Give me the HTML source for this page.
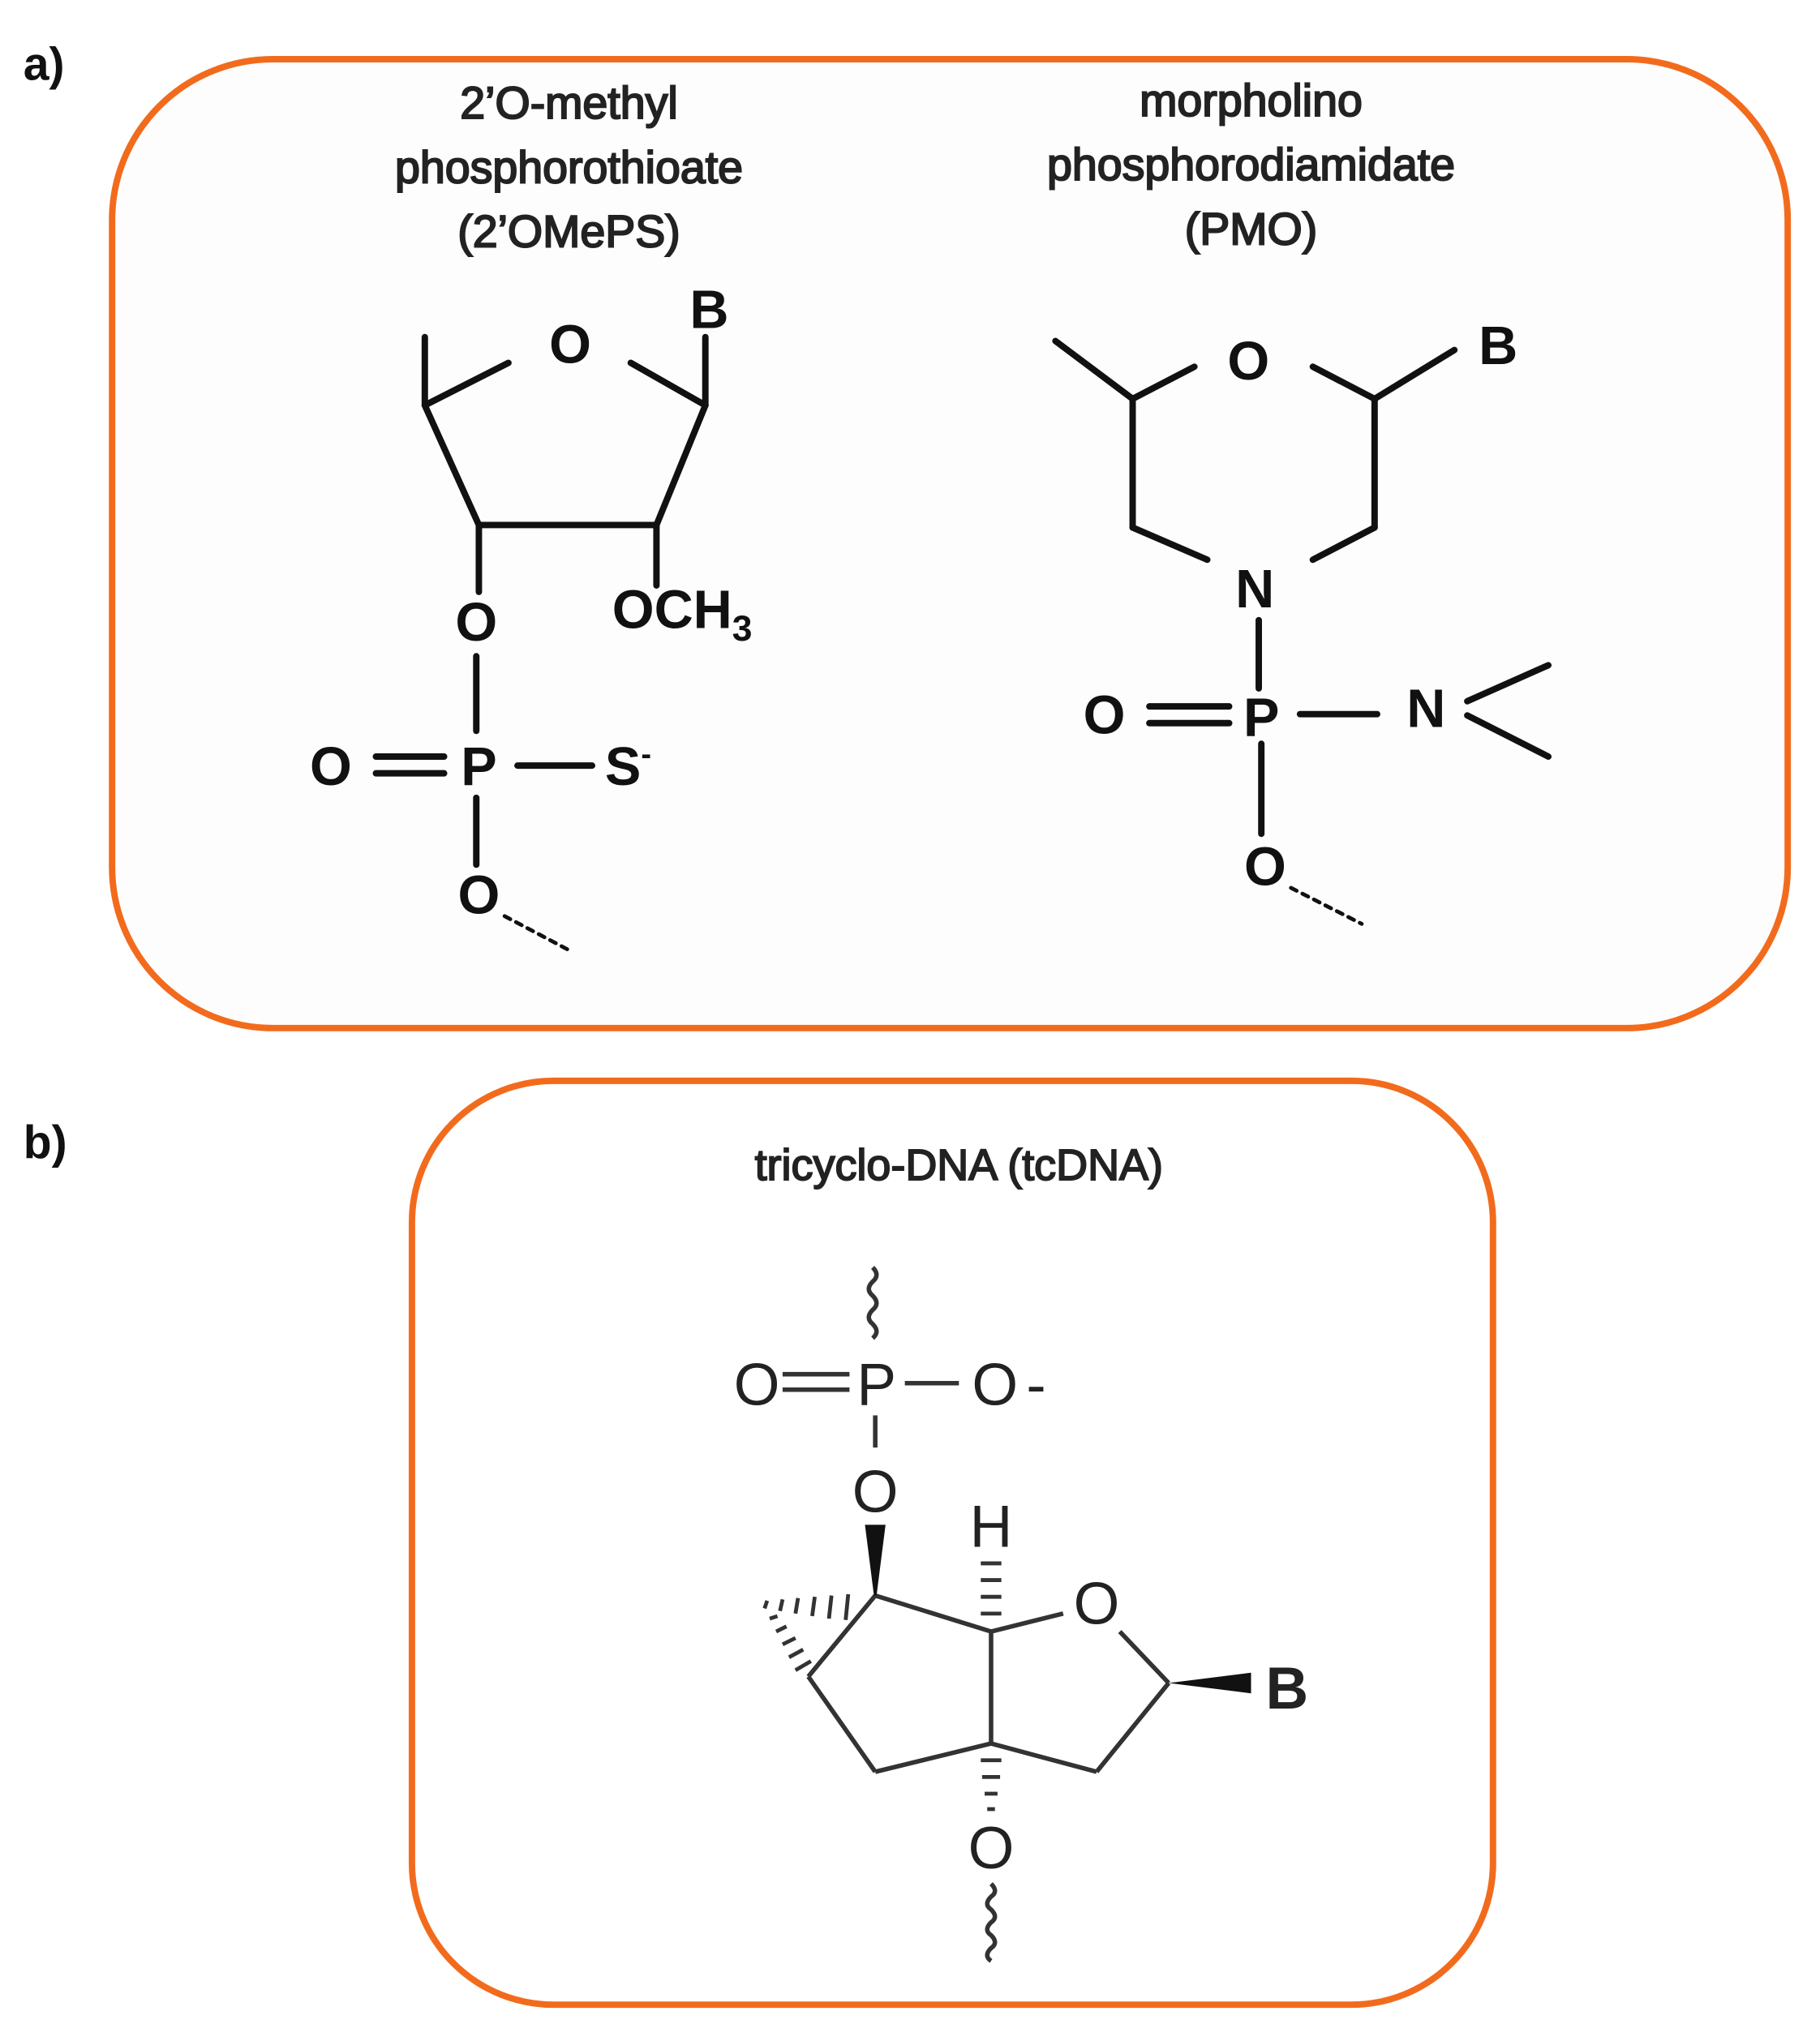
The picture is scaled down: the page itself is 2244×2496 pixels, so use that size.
<!DOCTYPE html>
<html><head><meta charset="utf-8"><style>
html,body{margin:0;padding:0;background:#fff;}
svg{display:block;}
text{font-family:"Liberation Sans",Arial,sans-serif;}
</style></head><body>
<svg width="2244" height="2496" viewBox="0 0 1414 1573" xmlns="http://www.w3.org/2000/svg">
<rect x="0" y="0" width="1414" height="1573" fill="#fff"/>
<rect x="87" y="46" width="1302" height="753" rx="125" ry="125" fill="#fdfdfd" stroke="#f26b1d" stroke-width="5"/>
<rect x="320" y="840" width="840" height="718" rx="110" ry="110" fill="#fff" stroke="#f26b1d" stroke-width="5"/>
<text x="18" y="62" font-size="36" font-weight="bold" fill="#111">a)</text>
<text x="18" y="900" font-size="36" font-weight="bold" fill="#111">b)</text>

<g font-size="35" fill="#222" text-anchor="middle" stroke="#222" stroke-width="1.3">
<text x="442" y="92">2’O-methyl</text>
<text x="442" y="142">phosphorothioate</text>
<text x="442" y="192">(2’OMePS)</text>
<text x="972" y="90">morpholino</text>
<text x="972" y="140">phosphorodiamidate</text>
<text x="972" y="190">(PMO)</text>
</g>

<g stroke="#111" stroke-width="5" fill="none" stroke-linecap="round">
<line x1="330" y1="315" x2="395" y2="282"/>
<line x1="490" y1="282" x2="548" y2="315"/>
<line x1="330" y1="315" x2="330" y2="262"/>
<line x1="548" y1="315" x2="548" y2="262"/>
<line x1="330" y1="315" x2="372" y2="408"/>
<line x1="372" y1="408" x2="510" y2="408"/>
<line x1="510" y1="408" x2="548" y2="315"/>
<line x1="372" y1="408" x2="372" y2="460"/>
<line x1="510" y1="408" x2="510" y2="455"/>
<line x1="370" y1="510" x2="370" y2="568"/>
<line x1="292" y1="588" x2="345" y2="588"/>
<line x1="292" y1="601" x2="345" y2="601"/>
<line x1="402" y1="595" x2="460" y2="595"/>
<line x1="370" y1="620" x2="370" y2="672"/>
<line x1="392" y1="712" x2="445" y2="740" stroke-width="3" stroke-dasharray="5,5"/>

<line x1="880" y1="310" x2="928" y2="285"/>
<line x1="880" y1="310" x2="820" y2="265"/>
<line x1="1020" y1="285" x2="1068" y2="310"/>
<line x1="1068" y1="310" x2="1130" y2="272"/>
<line x1="880" y1="310" x2="880" y2="410"/>
<line x1="1068" y1="310" x2="1068" y2="410"/>
<line x1="880" y1="410" x2="938" y2="435"/>
<line x1="1068" y1="410" x2="1020" y2="435"/>
<line x1="978" y1="482" x2="978" y2="535"/>
<line x1="893" y1="549" x2="955" y2="549"/>
<line x1="893" y1="562" x2="955" y2="562"/>
<line x1="1010" y1="555" x2="1070" y2="555"/>
<line x1="1140" y1="545" x2="1203" y2="517"/>
<line x1="1140" y1="556" x2="1203" y2="588"/>
<line x1="980" y1="578" x2="980" y2="648"/>
<line x1="1003" y1="690" x2="1058" y2="718" stroke-width="3" stroke-dasharray="5,5"/>
</g>

<g font-size="42" font-weight="bold" fill="#111" text-anchor="middle">
<text x="443" y="282">O</text>
<text x="551" y="255">B</text>
<text x="370" y="498">O</text>
<text x="530" y="488">OCH<tspan font-size="28" dy="10">3</tspan></text>
<text x="257" y="610">O</text>
<text x="372" y="610">P</text>
<text x="488" y="610">S<tspan font-size="24" dy="-16">-</tspan></text>
<text x="372" y="710">O</text>
<text x="970" y="295">O</text>
<text x="1164" y="283">B</text>
<text x="975" y="472">N</text>
<text x="858" y="570">O</text>
<text x="980" y="572">P</text>
<text x="1108" y="565">N</text>
<text x="983" y="688">O</text>
</g>

<text x="745" y="917" font-size="34" fill="#222" text-anchor="middle" stroke="#222" stroke-width="1.2">tricyclo-DNA (tcDNA)</text>

<g stroke="#333" stroke-width="3.5" fill="none">
<path d="M678 985 q6 6 0 11 q-6 6 0 11 q6 6 0 11 q-6 6 0 11 q6 6 0 11"/>
<line x1="608" y1="1068" x2="660" y2="1068"/>
<line x1="608" y1="1080" x2="660" y2="1080"/>
<line x1="703" y1="1075" x2="745" y2="1075"/>
<line x1="680" y1="1100" x2="680" y2="1125"/>
<line x1="680" y1="1240" x2="770" y2="1268"/>
<line x1="770" y1="1268" x2="826" y2="1254"/>
<line x1="870" y1="1268" x2="908" y2="1308"/>
<line x1="908" y1="1308" x2="852" y2="1377"/>
<line x1="852" y1="1377" x2="770" y2="1355"/>
<line x1="770" y1="1268" x2="770" y2="1355"/>
<line x1="770" y1="1355" x2="680" y2="1377"/>
<line x1="680" y1="1377" x2="628" y2="1303"/>
<line x1="628" y1="1303" x2="680" y2="1240"/>
<path d="M770 1464 q6 6 0 10 q-6 6 0 10 q6 6 0 10 q-6 6 0 10 q6 6 0 10 q-6 6 0 10"/>
</g>
<g stroke="#333" stroke-width="3">
<line x1="762" y1="1215" x2="778" y2="1215"/><line x1="762" y1="1228" x2="778" y2="1228"/><line x1="762" y1="1241" x2="778" y2="1241"/><line x1="762" y1="1254" x2="778" y2="1254"/>
<line x1="762" y1="1368" x2="778" y2="1368"/><line x1="763" y1="1381" x2="777" y2="1381"/><line x1="765" y1="1394" x2="775" y2="1394"/><line x1="767" y1="1406" x2="773" y2="1406"/>
<line x1="596" y1="1244" x2="594" y2="1250"/><line x1="608" y1="1243" x2="606" y2="1252"/><line x1="620" y1="1242" x2="618" y2="1254"/><line x1="633" y1="1241" x2="631" y2="1256"/><line x1="646" y1="1240" x2="644" y2="1258"/><line x1="659" y1="1239" x2="657" y2="1259"/>
<line x1="598" y1="1258" x2="604" y2="1256"/><line x1="603" y1="1268" x2="611" y2="1264"/><line x1="608" y1="1278" x2="618" y2="1273"/><line x1="613" y1="1288" x2="624" y2="1282"/><line x1="618" y1="1298" x2="630" y2="1291"/>
</g>
<polygon points="672,1185 688,1185 681,1240 679,1240" fill="#111"/>
<polygon points="908,1308 972,1300 972,1316" fill="#111"/>

<g font-size="46" fill="#222" text-anchor="middle">
<text x="588" y="1092">O</text>
<text x="681" y="1092">P</text>
<text x="773" y="1092">O</text>
<text x="805" y="1092">-</text>
<text x="680" y="1175">O</text>
<text x="770" y="1202">H</text>
<text x="852" y="1262">O</text>
<text x="770" y="1452">O</text>
</g>
<text x="1000" y="1328" font-size="46" font-weight="bold" fill="#222" text-anchor="middle">B</text>
</svg>
</body></html>
